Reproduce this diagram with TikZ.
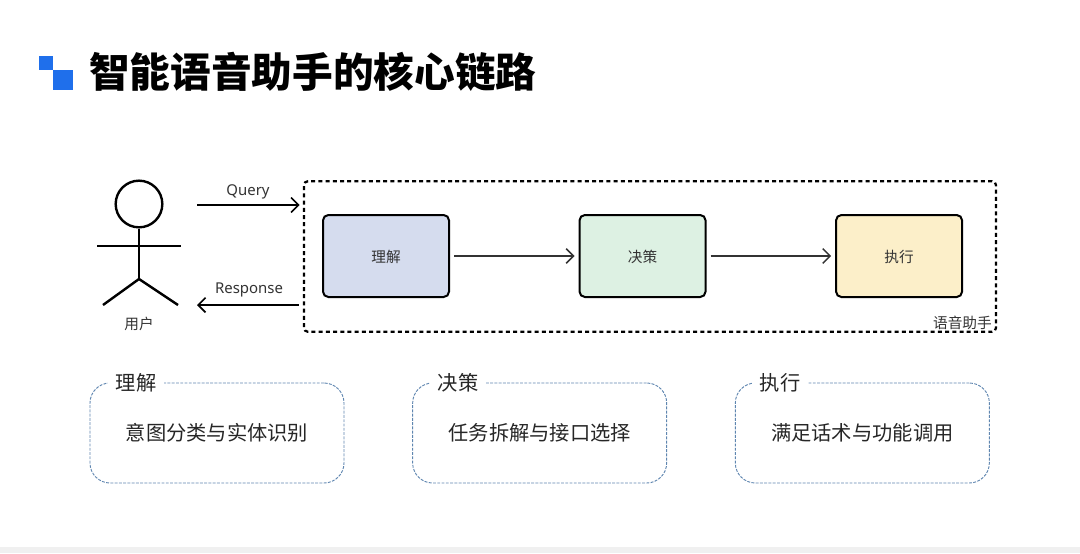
\documentclass[tikz,border=0pt]{standalone}
\usepackage{fontspec}
\setmainfont{Noto Sans}
\newfontfamily\cjk{Noto Sans CJK SC}
\usetikzlibrary{arrows.meta, positioning}
\definecolor{squareblue}{HTML}{1F6FEB}
\definecolor{dashblue}{HTML}{5F86B0}
\definecolor{fillblue}{HTML}{D5DCEE}
\definecolor{fillgreen}{HTML}{DDF1E3}
\definecolor{fillyellow}{HTML}{FCEFC9}
\definecolor{stripgray}{HTML}{F0F0F0}
\definecolor{labelgray}{HTML}{333333}

\begin{document}
\begin{tikzpicture}[
    x=0.75pt, y=-0.75pt,
    node distance=96.4pt,
    stage/.style={draw=black, line width=1.5pt, rounded corners=4pt, minimum width=94.5pt,
                  minimum height=61.5pt, inner sep=0pt, font=\cjk\fontsize{11}{12}\selectfont,
                  text height=10.4pt, text depth=1pt, text=labelgray, fill=#1},
    stage/.default=fillblue,
    note/.style={draw=dashblue, line width=0.7pt, dash pattern=on 2.2pt off 1pt, rounded corners=15pt,
                 minimum width=190.5pt, minimum height=75pt, inner sep=0pt,
                 font=\cjk\fontsize{15.2}{18}\selectfont, text=black!85},
    notetitle/.style={fill=white, inner xsep=6pt, inner ysep=1pt, font=\cjk\fontsize{15.2}{18}\selectfont,
                      text=black!85},
    small/.style={font=\cjk\fontsize{11}{12}\selectfont, text=labelgray, inner sep=0pt},
    latin/.style={font=\fontsize{11.2}{12}\selectfont, text=labelgray, inner sep=0pt},
    arr/.style={-{Straight Barb[length=5.5pt, width=11pt, line width=1.2pt]}, line width=1.2pt},
    thinarr/.style={-{Straight Barb[length=5.5pt, width=11pt, line width=1.1pt]}, line width=0.8pt, black!80},
    limb/.style={line width=1.8pt},
]
\useasboundingbox (0,0) rectangle (1080,553);

% Page strip and title
\fill[stripgray] (0,547) rectangle (1080,553);
\node[fill=squareblue, minimum size=10pt, inner sep=0pt, anchor=north west] (sqsmall) at (39,56) {};
\node[fill=squareblue, minimum size=15pt, inner sep=0pt, anchor=north west] (sqbig) at (sqsmall.south east) {};
\node[anchor=west, inner sep=0pt, font=\cjk\bfseries\fontsize{30.5}{36}\selectfont] (title) at (89,72) {智能语音助手的核心链路};

% Assistant frame and stages
\node[draw, line width=1.7pt, dash pattern=on 3pt off 2.4pt, rounded corners=3pt, minimum width=519pt,
      minimum height=113pt, inner sep=0pt] (frame) at (650,256.5) {};
\node[stage=fillblue]                 (parse)  at (386,256) {理解};
\node[stage=fillgreen, right=of parse]  (plan)   {决策};
\node[stage=fillyellow, right=of plan]  (act)    {执行};
\node[small, anchor=south east] (framelabel) at (992,330) {语音助手};

% Stage arrows
\draw[thinarr, shorten <=3pt, shorten >=3pt] (parse) -- (plan);
\draw[thinarr, shorten <=3pt, shorten >=3pt] (plan)  -- (act);

% User
\node[draw, line width=1.8pt, circle, minimum size=35pt, inner sep=0pt] (head) at (139,204) {};
\coordinate (hip) at (139,279);
\coordinate (armL) at (97,246);
\coordinate (armR) at (181,246);
\coordinate (footL) at (103,305);
\coordinate (footR) at (178,305);
\draw[limb] (head) -- (hip);
\draw[limb] (armL) -- (armR);
\draw[limb] (footL) -- (hip) -- (footR);
\node[small] (user) at (139,324) {用户};

% Query and response
\coordinate (qstart) at (197,205);
\coordinate (rstart) at (197,305);
\draw[arr, shorten >=2.5pt] (qstart) -- (qstart -| frame.west);
\draw[arr, shorten <=3pt] (rstart -| frame.west) -- (rstart);
\node[latin] (query) at (248,191.5) {Query};
\node[latin] (resp)  at (249,289.5) {Response};

% Notes
\node[note] (noteA) at (217,433) {意图分类与实体识别};
\node[note, right=50.8pt of noteA] (noteB) {任务拆解与接口选择};
\node[note, right=50.8pt of noteB] (noteC) {满足话术与功能调用};
\node[notetitle] at (136,383) {理解};
\node[notetitle] at (458,383) {决策};
\node[notetitle] at (780,383) {执行};
\end{tikzpicture}
\end{document}
